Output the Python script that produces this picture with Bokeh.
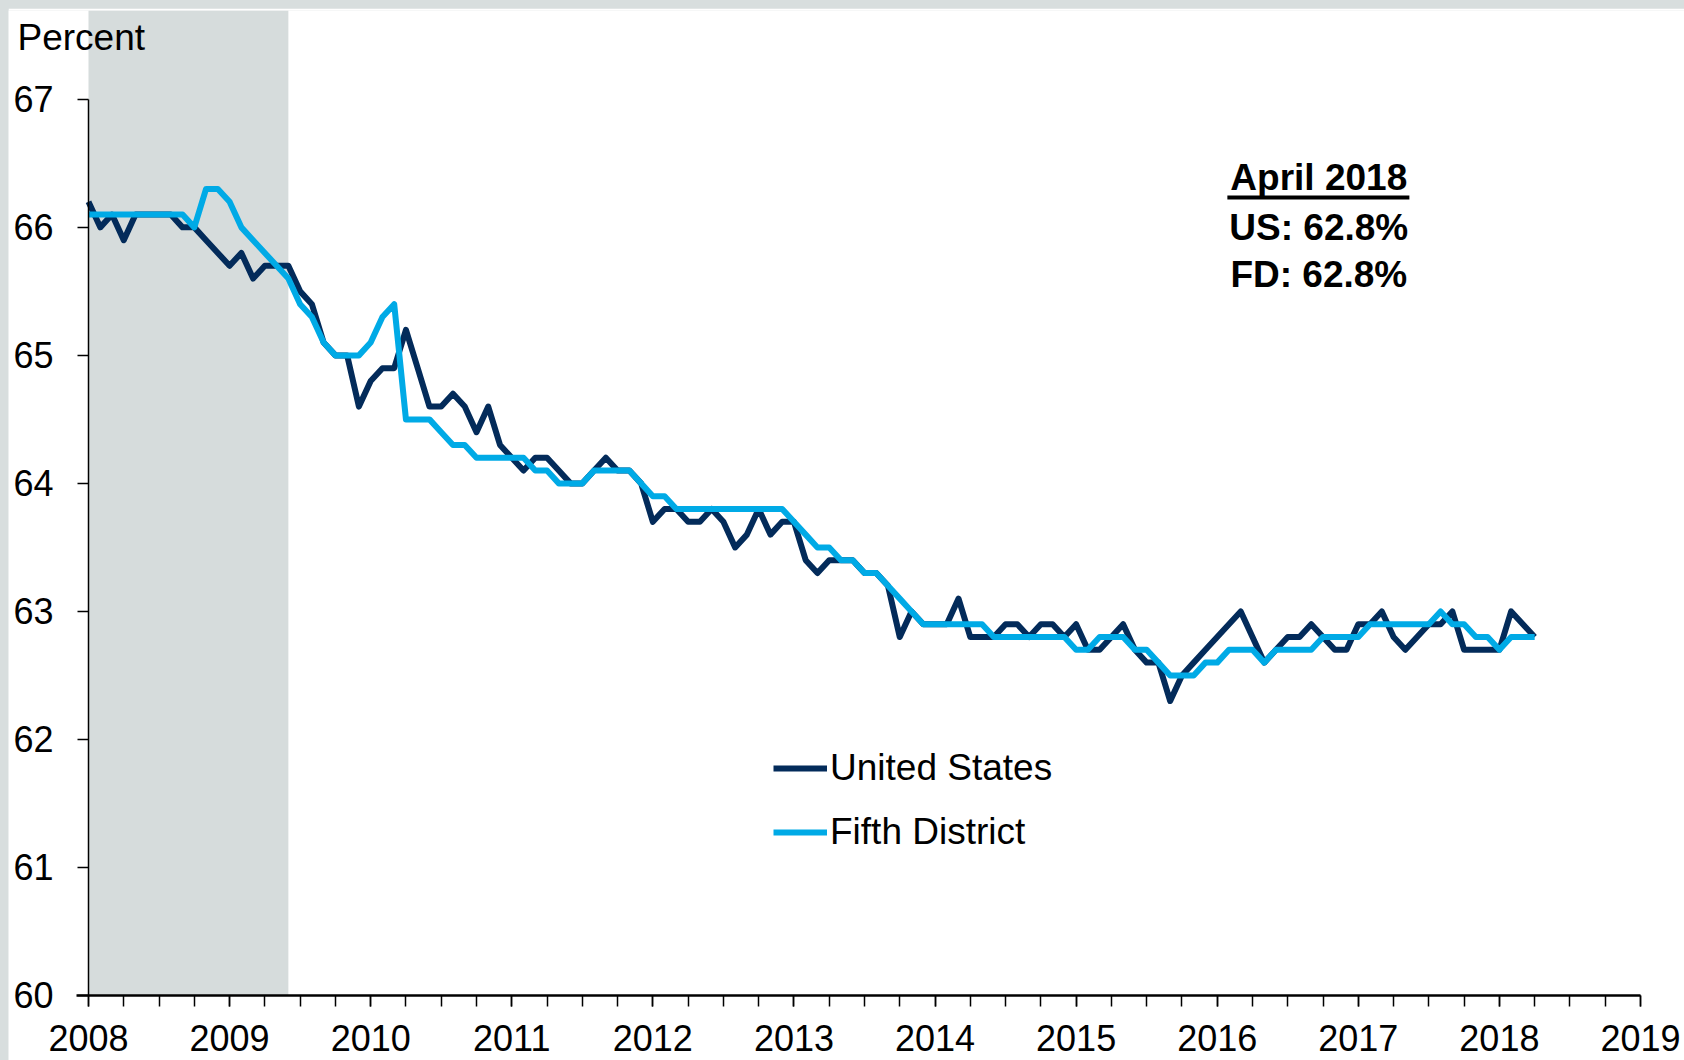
from bokeh.plotting import figure
from bokeh.models import (FixedTicker, BoxAnnotation, Label, Legend, LegendItem,
                          Range1d)
from bokeh.embed import file_html
from bokeh.resources import INLINE

# ---------------- data (monthly, Jan 2008 .. Apr 2018) ----------------
start_year = 2008
us = [66.2, 66.0, 66.1, 65.9, 66.1, 66.1, 66.1, 66.1, 66.0, 66.0, 65.9, 65.8,
      65.7, 65.8, 65.6, 65.7, 65.7, 65.7, 65.5, 65.4, 65.1, 65.0, 65.0, 64.6,
      64.8, 64.9, 64.9, 65.2, 64.9, 64.6, 64.6, 64.7, 64.6, 64.4, 64.6, 64.3,
      64.2, 64.1, 64.2, 64.2, 64.1, 64.0, 64.0, 64.1, 64.2, 64.1, 64.1, 64.0,
      63.7, 63.8, 63.8, 63.7, 63.7, 63.8, 63.7, 63.5, 63.6, 63.8, 63.6, 63.7,
      63.7, 63.4, 63.3, 63.4, 63.4, 63.4, 63.3, 63.3, 63.2, 62.8, 63.0, 62.9,
      62.9, 62.9, 63.1, 62.8, 62.8, 62.8, 62.9, 62.9, 62.8, 62.9, 62.9, 62.8,
      62.9, 62.7, 62.7, 62.8, 62.9, 62.7, 62.6, 62.6, 62.3, 62.5, 62.6, 62.7,
      62.8, 62.9, 63.0, 62.8, 62.6, 62.7, 62.8, 62.8, 62.9, 62.8, 62.7, 62.7,
      62.9, 62.9, 63.0, 62.8, 62.7, 62.8, 62.9, 62.9, 63.0, 62.7, 62.7, 62.7,
      62.7, 63.0, 62.9, 62.8]
fd = [66.1, 66.1, 66.1, 66.1, 66.1, 66.1, 66.1, 66.1, 66.1, 66.0, 66.3, 66.3,
      66.2, 66.0, 65.9, 65.8, 65.7, 65.6, 65.4, 65.3, 65.1, 65.0, 65.0, 65.0,
      65.1, 65.3, 65.4, 64.5, 64.5, 64.5, 64.4, 64.3, 64.3, 64.2, 64.2, 64.2,
      64.2, 64.2, 64.1, 64.1, 64.0, 64.0, 64.0, 64.1, 64.1, 64.1, 64.1, 64.0,
      63.9, 63.9, 63.8, 63.8, 63.8, 63.8, 63.8, 63.8, 63.8, 63.8, 63.8, 63.8,
      63.7, 63.6, 63.5, 63.5, 63.4, 63.4, 63.3, 63.3, 63.2, 63.1, 63.0, 62.9,
      62.9, 62.9, 62.9, 62.9, 62.9, 62.8, 62.8, 62.8, 62.8, 62.8, 62.8, 62.8,
      62.7, 62.7, 62.8, 62.8, 62.8, 62.7, 62.7, 62.6, 62.5, 62.5, 62.5, 62.6,
      62.6, 62.7, 62.7, 62.7, 62.6, 62.7, 62.7, 62.7, 62.7, 62.8, 62.8, 62.8,
      62.8, 62.9, 62.9, 62.9, 62.9, 62.9, 62.9, 63.0, 62.9, 62.9, 62.8, 62.8,
      62.7, 62.8, 62.8, 62.8]
year_ticks = list(range(2008, 2020))
y_ticks = [60, 61, 62, 63, 64, 65, 66, 67]
recession = (2008.0, 2008 + 17 / 12)  # shaded through June 2009
series_names = ["United States", "Fifth District"]
latest_label = "April 2018"

x = [start_year + i / 12 for i in range(len(us))]

US_COLOR = "#032B5A"
FD_COLOR = "#00AAE6"
FONT = "Liberation Sans"

p = figure(width=1676, height=1052, output_backend="svg", toolbar_location=None,
           x_range=Range1d(2007.433, 2019.312), y_range=Range1d(59.492, 67.694),
           min_border_left=0, min_border_right=0, min_border_top=2,
           min_border_bottom=0)
p.background_fill_color = "white"
p.border_fill_color = "white"
p.outline_line_color = None
p.xgrid.visible = False
p.ygrid.visible = False

p.add_layout(BoxAnnotation(left=recession[0], right=recession[1],
                           bottom=y_ticks[0],
                           fill_color="#D6DCDC", fill_alpha=1.0,
                           line_alpha=0, level="underlay"))

r_us = p.line(x, us, line_color=US_COLOR, line_width=6, line_join="round")
r_fd = p.line(x, fd, line_color=FD_COLOR, line_width=6, line_join="round")

# axes
xa = p.xaxis[0]
xa.fixed_location = 60
xa.ticker = FixedTicker(ticks=year_ticks,
                        minor_ticks=[2008 + q / 4 for q in range(45)])
xa.bounds = (2007.915, 2019)
xa.major_tick_out = 11
xa.major_tick_in = 0
xa.minor_tick_out = 11
xa.minor_tick_in = 0
xa.axis_line_width = 2.5
xa.major_tick_line_width = 1.5
xa.minor_tick_line_width = 1.5
xa.major_label_text_font = FONT
xa.major_label_text_font_size = "36px"
xa.major_label_text_color = "black"
xa.major_label_standoff = 19

ya = p.yaxis[0]
ya.fixed_location = 2008
ya.ticker = FixedTicker(ticks=y_ticks, minor_ticks=[])
ya.bounds = (60, 67)
ya.major_tick_out = 11
ya.major_tick_in = 0
ya.axis_line_width = 1.5
ya.major_tick_line_width = 1.5
ya.major_label_text_font = FONT
ya.major_label_text_font_size = "36px"
ya.major_label_text_color = "black"
ya.major_label_standoff = 24

# axis title "Percent"
p.add_layout(Label(x=2007.497, y=67.482, text="Percent", text_font=FONT,
                   text_font_size="37px", text_color="black",
                   text_align="left", text_baseline="alphabetic"))

# latest value annotation
ann_x = 2016.72
p.add_layout(Label(x=ann_x, y=66.390, text=latest_label, text_font=FONT,
                   text_font_size="37px", text_font_style="bold",
                   text_color="black", text_align="center",
                   text_baseline="alphabetic"))
p.add_layout(BoxAnnotation(left=2016.072, right=2017.362, bottom=66.218,
                           top=66.249, fill_color="black", fill_alpha=1.0,
                           line_alpha=0))
p.add_layout(Label(x=ann_x, y=66.001, text=f"US: {us[-1]:.1f}%", text_font=FONT,
                   text_font_size="37px", text_font_style="bold",
                   text_color="black", text_align="center",
                   text_baseline="alphabetic"))
p.add_layout(Label(x=ann_x, y=65.632, text=f"FD: {fd[-1]:.1f}%", text_font=FONT,
                   text_font_size="37px", text_font_style="bold",
                   text_color="black", text_align="center",
                   text_baseline="alphabetic"))

legend = Legend(items=[LegendItem(label=series_names[0], renderers=[r_us]),
                       LegendItem(label=series_names[1], renderers=[r_fd])],
                location=(765, 207), orientation="vertical",
                border_line_alpha=0, background_fill_alpha=0,
                padding=0, margin=0, spacing=22,
                glyph_width=54, glyph_height=40, label_height=40,
                label_standoff=3, label_text_font=FONT,
                label_text_font_size="37px", label_text_color="black")
p.add_layout(legend)

html = file_html(p, INLINE, title="Labor force participation rate")
html = html.replace(
    "</head>",
    "<style>html,body{background:#D8DEDE !important;overflow:hidden !important;}"
    "body{padding:8px 0 0 8px !important;box-sizing:border-box;}</style></head>", 1)
open("out.html", "w").write(html)
